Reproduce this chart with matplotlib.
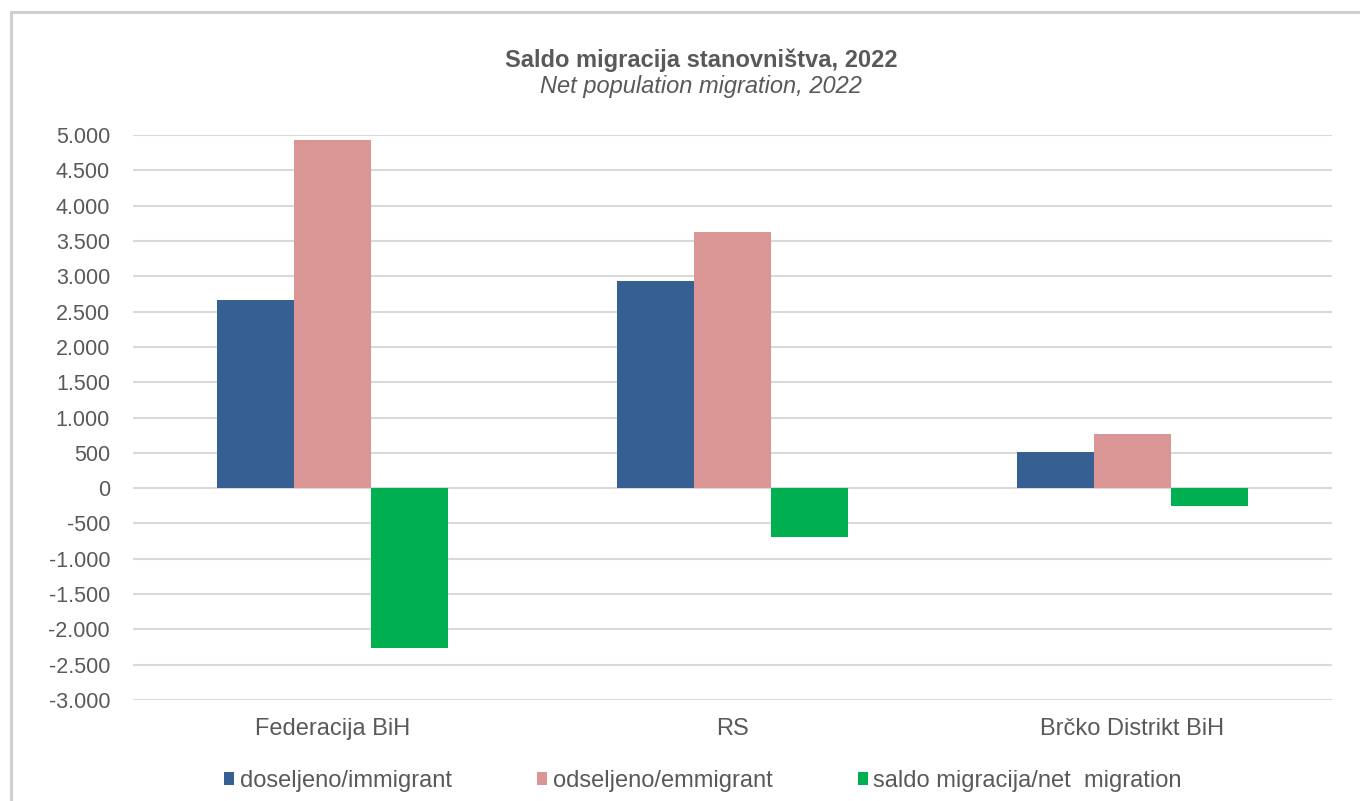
import numpy as np
import matplotlib.pyplot as plt
from matplotlib.patches import Rectangle
from matplotlib.ticker import FuncFormatter

plt.rcParams['font.family'] = ['Liberation Sans', 'DejaVu Sans']

# Data
categories = ["Federacija BiH", "RS", "Brčko Distrikt BiH"]
immigrant = [2665, 2932, 506]
emigrant = [4930, 3626, 760]
net_migration = [-2265, -694, -254]
series_names = ["doseljeno/immigrant", "odseljeno/emmigrant", "saldo migracija/net  migration"]
colors = ["#366092", "#D99694", "#00B050"]

txt = "#595959"

fig = plt.figure(figsize=(13.6, 8.01), dpi=100)

# outer chart border (only left/top visible in the crop)
fig.patches.append(Rectangle((11 / 1360, -0.1), 1.2, 1 - 12 / 801 + 0.1,
                             transform=fig.transFigure, fill=False,
                             edgecolor="#D0D0D0", linewidth=2.2))

ax = fig.add_axes([133 / 1360, 101 / 801, 1199 / 1360, 565 / 801])

x = np.arange(len(categories))
w = 0.1925
for i, vals in enumerate([immigrant, emigrant, net_migration]):
    ax.bar(x + (i - 1) * w, vals, width=w, color=colors[i], label=series_names[i],
           zorder=3)

ax.set_xlim(-0.5, 2.5)
ax.set_ylim(-3000, 5000)
ax.set_yticks(np.arange(-3000, 5001, 500))
ax.yaxis.set_major_formatter(FuncFormatter(lambda v, p: f"{int(v):,}".replace(",", ".")))
ax.grid(axis="y", color="#D9D9D9", linewidth=1.5, zorder=0)
for s in ax.spines.values():
    s.set_visible(False)
ax.tick_params(axis="y", length=0, pad=16.5, labelsize=15.5, labelcolor=txt)
ax.tick_params(axis="x", length=0, pad=13, labelsize=17, labelcolor=txt)
ax.set_xticks(x)
ax.set_xticklabels(categories)

# titles (centred on the whole chart box, which is offset by its border)
tx = 701 / 1360
fig.text(tx, 1 - 60 / 801, "Saldo migracija stanovništva, 2022", ha="center", va="center",
         fontsize=17, fontweight="bold", color=txt)
fig.text(tx, 1 - 87 / 801, "Net population migration, 2022", ha="center", va="center",
         fontsize=17, fontstyle="italic", color=txt)

leg = fig.legend(loc="center", bbox_to_anchor=(0.517, 1 - 781 / 801), ncol=3,
                 frameon=False, fontsize=17, handlelength=0.42, handleheight=0.42,
                 handletextpad=0.25, columnspacing=3.6, borderpad=0)
for t in leg.get_texts():
    t.set_color(txt)

fig.savefig("out.png", dpi=100)
